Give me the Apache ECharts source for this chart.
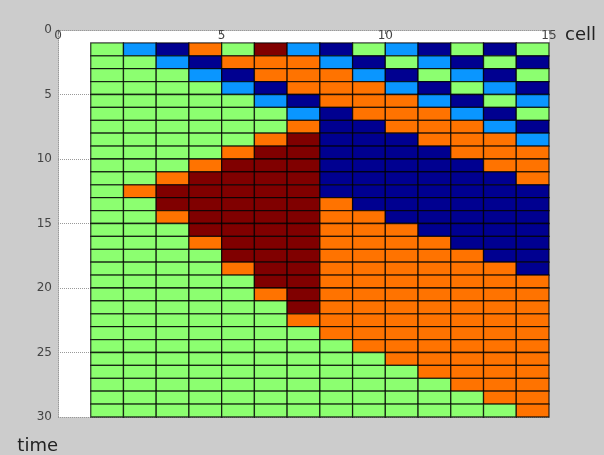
<!DOCTYPE html>
<html>
<head>
<meta charset="utf-8">
<script src="https://cdn.jsdelivr.net/npm/echarts@6/dist/echarts.min.js"></script>
<style>
  html, body { margin: 0; padding: 0; background: #cccccc; }
  #chart { width: 604px; height: 455px; }
</style>
</head>
<body>
<div id="chart"></div>
<script>
// State of each cell (columns 1..14) at each time step (rows 1..29).
// G = green, L = light blue, B = dark blue, O = orange, R = dark red
const rows = [
  'GLBOGRLBGLBGBG',
  'GGLBOOOLBGLBGB',
  'GGGLBOOOLBGLBG',
  'GGGGLBOOOLBGLB',
  'GGGGGLBOOOLBGL',
  'GGGGGGLBOOOLBG',
  'GGGGGGOBBOOOLB',
  'GGGGGORBBBOOOL',
  'GGGGORRBBBBOOO',
  'GGGORRRBBBBBOO',
  'GGORRRRBBBBBBO',
  'GORRRRRBBBBBBB',
  'GGRRRRROBBBBBB',
  'GGORRRROOBBBBB',
  'GGGRRRROOOBBBB',
  'GGGORRROOOOBBB',
  'GGGGRRROOOOOBB',
  'GGGGORROOOOOOB',
  'GGGGGRROOOOOOO',
  'GGGGGOROOOOOOO',
  'GGGGGGROOOOOOO',
  'GGGGGGOOOOOOOO',
  'GGGGGGGOOOOOOO',
  'GGGGGGGGOOOOOO',
  'GGGGGGGGGOOOOO',
  'GGGGGGGGGGOOOO',
  'GGGGGGGGGGGOOO',
  'GGGGGGGGGGGGOO',
  'GGGGGGGGGGGGGO'
];
const stateColors = {
  G: '#8cff70',
  L: '#0a96ff',
  B: '#000090',
  O: '#ff7300',
  R: '#800000'
};
const xTicks = [0, 5, 10, 15];
const yTicks = [0, 5, 10, 15, 20, 25, 30];

// one item per cell: [column, time, state]
const cells = [];
rows.forEach((r, ti) => {
  for (let ci = 0; ci < r.length; ci++) {
    cells.push([ci + 1, ti + 1, r[ci]]);
  }
});

const chart = echarts.init(document.getElementById('chart'), null, { renderer: 'canvas' });
const labelFont = 'DejaVu Sans';

chart.setOption({
  backgroundColor: '#cccccc',
  animation: false,
  grid: { left: 58, top: 30, width: 491, height: 387, show: true, backgroundColor: '#ffffff', borderWidth: 0 },
  xAxis: {
    type: 'value', position: 'top', min: 0, max: 15, interval: 5,
    name: 'cell', nameLocation: 'end', nameGap: 16,
    nameTextStyle: { fontFamily: labelFont, fontSize: 18, color: '#222', verticalAlign: 'top', lineHeight: 10 },
    axisLine: { show: true, lineStyle: { color: '#999', type: 'dotted', width: 1 } },
    axisTick: { show: true, inside: true, length: 4, lineStyle: { color: '#777' } },
    axisLabel: { fontFamily: labelFont, fontSize: 12, color: '#444', margin: -12,
      formatter: v => xTicks.includes(v) ? String(v) : '' },
    splitLine: { show: false }
  },
  yAxis: {
    type: 'value', inverse: true, min: 0, max: 30, interval: 5,
    name: 'time', nameLocation: 'end', nameGap: 20,
    nameTextStyle: { fontFamily: labelFont, fontSize: 18, color: '#222', align: 'right', verticalAlign: 'top' },
    axisLine: { show: true, lineStyle: { color: '#999', type: 'dotted', width: 1 } },
    axisTick: { show: false },
    axisLabel: { fontFamily: labelFont, fontSize: 12, color: '#444', margin: 6,
      formatter: v => yTicks.includes(v) ? String(v) : '' },
    splitLine: { show: true, lineStyle: { color: '#999', type: 'dotted', width: 1 } }
  },
  series: [{
    type: 'custom',
    data: cells,
    encode: { x: 0, y: 1 },
    renderItem: function (params, api) {
      const c = api.value(0), t = api.value(1);
      const p0 = api.coord([c, t]);
      const p1 = api.coord([c + 1, t + 1]);
      const state = cells[params.dataIndex][2];
      return {
        type: 'rect',
        shape: { x: p0[0], y: p0[1], width: p1[0] - p0[0], height: p1[1] - p0[1] },
        style: { fill: stateColors[state], stroke: 'rgba(0,0,0,0.75)', lineWidth: 1.3 }
      };
    }
  }]
});
</script>
</body>
</html>
